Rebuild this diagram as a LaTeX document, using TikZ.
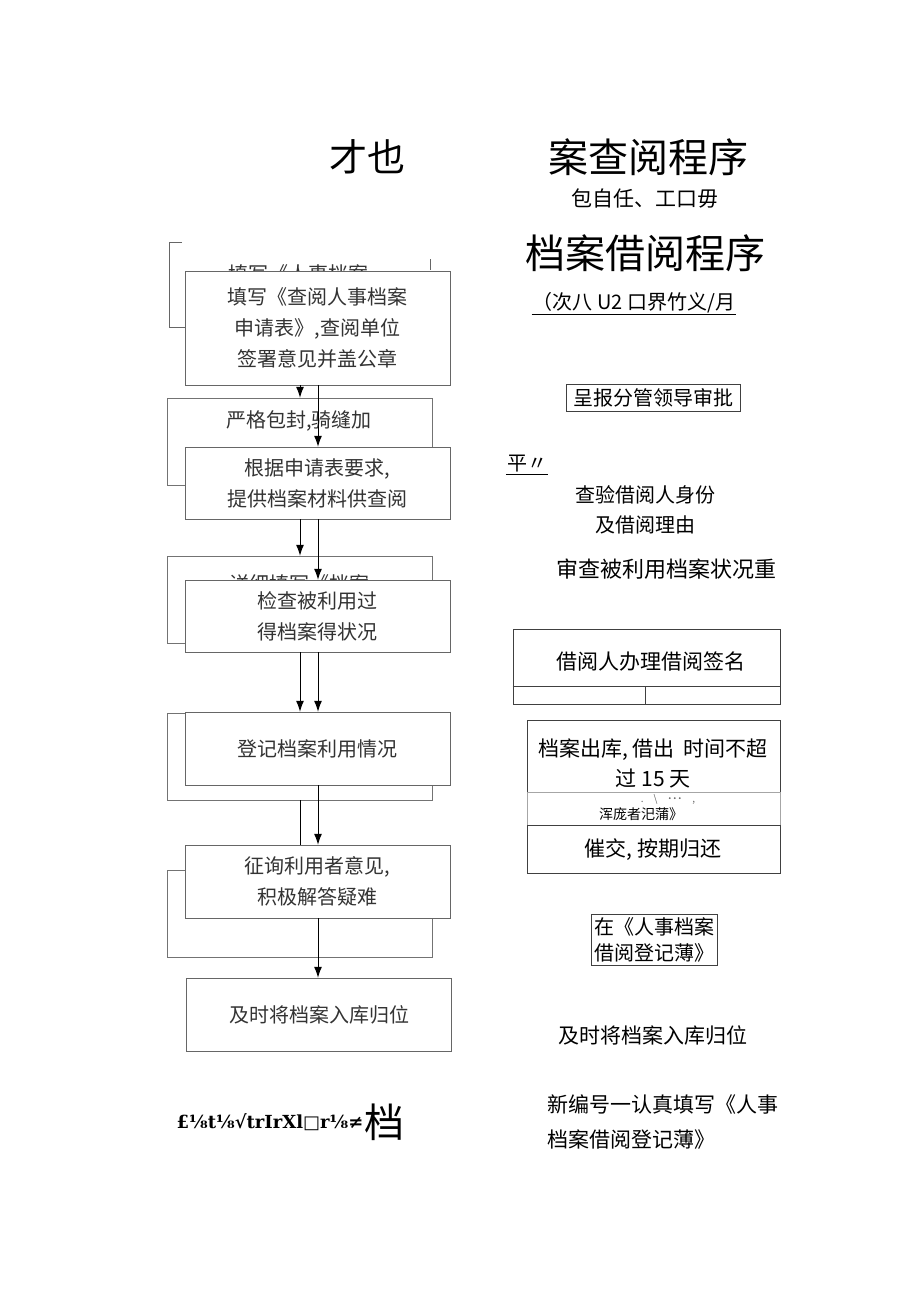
\documentclass[tikz,border=0pt]{standalone}
\usepackage{fontspec}
\setmainfont{Noto Sans CJK SC}
\newfontfamily\garbfont{DejaVu Serif}
\usetikzlibrary{positioning,arrows.meta,calc}

\begin{document}
\begin{tikzpicture}[x=1pt,y=-1pt,
  every node/.style={font=\fontsize{20}{31}\selectfont,inner sep=0pt},
  front/.style={draw=black!60,fill=white,minimum width=265pt,minimum height=73pt,align=center,text=black!80},
  back/.style={draw=black!55,minimum width=265pt,minimum height=87pt},
  rbox/.style={draw=black!75,line width=0.6pt},
  arr/.style={-{Latex[length=11pt,width=8pt]},line width=1pt}]
  \useasboundingbox (0,0) rectangle (920,1301);

  % left column, boxes behind
  \draw[black!60] (182,242) -| (169,327) -- (185,327);
  \node[text=black!80] (b1t) at (298,274) {填写《人事档案};
  \draw[black!60] (430,259) -- (430,270);
  \node[back] (b2) at (299.5,441.5) {};
  \node[text=black!80] (b2t) at (299,421) {严格包封,骑缝加};
  \node[back] (b3) at (299.5,599.5) {};
  \node[text=black!80] (b3t) at (299,584) {详细填写《档案};
  \node[back] (b4) at (299.5,756.5) {};
  \node[back] (b5) at (299.5,913.5) {};

  % left column, boxes in front
  \node[front,minimum height=114pt] (f1) at (317.5,328) {填写《查阅人事档案\\申请表》,查阅单位\\签署意见并盖公章};
  \node[front,minimum height=72pt] (f2) at (317.5,483) {根据申请表要求,\\提供档案材料供查阅};
  \node[front,minimum height=72pt] (f3) at (317.5,616) {检查被利用过\\得档案得状况};
  \node[front] (f4) at (317.5,748.5) {登记档案利用情况};
  \node[front] (f5) at (317.5,881.5) {征询利用者意见,\\积极解答疑难};
  \node[front] (f6) at (319,1014.5) {及时将档案入库归位};

  \draw[arr] ([xshift=-17.5pt]f1.south) -- ([xshift=-17.5pt]f1.south |- b2.north);
  \draw[arr] ([xshift=0.5pt]f1.south) -- ([xshift=0.5pt]f1.south |- f2.north);
  \draw[arr] ([xshift=-17.5pt]f2.south) -- ([xshift=-17.5pt]f2.south |- b3.north);
  \draw[arr] ([xshift=0.5pt]f2.south) -- ([xshift=0.5pt]f2.south |- f3.north);
  \draw[arr] ([xshift=-17.5pt]f3.south) -- ([xshift=-17.5pt]f3.south |- f4.north);
  \draw[arr] ([xshift=0.5pt]f3.south) -- ([xshift=0.5pt]f3.south |- f4.north);
  \draw[line width=1pt] ([xshift=0.5pt]b4.south) -- ([xshift=0.5pt]b4.south |- f5.north);
  \draw[arr] ([xshift=0.5pt]f4.south) -- ([xshift=0.5pt]f4.south |- f5.north);
  \draw[arr] ([xshift=0.5pt]f5.south) -- ([xshift=-1pt]f6.north);

  \node[font=\garbfont\bfseries\fontsize{18}{20}\selectfont] (garb) at (270,1122) {£⅛t⅛√trIrXl□r⅛≠};
  \node[font=\fontsize{40}{40}\selectfont,right=1pt of garb] (garb2) {档};

  % right column
  \node[font=\fontsize{38}{40}\selectfont] (t1) at (367,157) {才也};
  \node[font=\fontsize{40}{40}\selectfont] (t2) at (648,157) {案查阅程序};
  \node[font=\fontsize{21}{24}\selectfont] (t3) at (645,198) {包自任、工口毋};
  \node[font=\fontsize{40}{40}\selectfont] (t4) at (645,253) {档案借阅程序};
  \node[inner sep=1pt] (t5) at (634,303) {（次八 U2 口界竹义/月};
  \draw (t5.south west) -- (t5.south east);

  \node[rbox,minimum width=174pt,minimum height=27pt] (r1) at (653,397.5) {呈报分管领导审批};
  \node[inner sep=1pt] (r2) at (527,464) {平〃};
  \draw (r2.south west) -- (r2.south east);
  \node[font=\fontsize{20}{30}\selectfont,align=center] (r2b) at (645,510) {查验借阅人身份\\及借阅理由};
  \node[font=\fontsize{22}{24}\selectfont] (r2c) at (666,569) {审查被利用档案状况重};

  \node[rbox,minimum width=267pt,minimum height=75pt] (r3) at (646.5,666.5) {};
  \node[font=\fontsize{21}{24}\selectfont] (r3t) at (651,662) {借阅人办理借阅签名};
  \draw[rbox] ($(r3.south west)+(0,-18)$) -- ($(r3.south east)+(0,-18)$);
  \draw[rbox] ($(r3.south west)+(133,0)$) -- ++(0,-18);

  \node[rbox,minimum width=253pt,minimum height=72pt] (r4) at (653.5,756) {};
  \node[font=\fontsize{21}{30}\selectfont,align=center] (r4t) at (653,763) {档案出库, 借出\ \ 时间不超\\过 15 天};
  \node[draw=black!35,minimum width=253pt,minimum height=33pt] (r5) at (653.5,808.5) {};
  \node[font=\fontsize{10}{12}\selectfont,text=black!60] (r5a) at (668,799) {.\quad\textbackslash\quad ˙˙˙\quad ,};
  \node[font=\fontsize{14}{16}\selectfont] (r5t) at (641,814) {浑庞者汜蒲》};
  \node[rbox,minimum width=253pt,minimum height=48pt] (r6) at (653.5,849) {};
  \node[font=\fontsize{21}{24}\selectfont] (r6t) at (653,850) {催交, 按期归还};

  \node[rbox,align=left,inner sep=3pt,font=\fontsize{20}{26}\selectfont] (r7) at (654,939.5) {在《人事档案\\借阅登记薄》};
  \node[font=\fontsize{21}{24}\selectfont] (r8) at (653,1035) {及时将档案入库归位};
  \node[font=\fontsize{21}{35}\selectfont,align=left,anchor=west] (r9) at (547,1122.5) {新编号一认真填写《人事\\档案借阅登记薄》};
\end{tikzpicture}
\end{document}
